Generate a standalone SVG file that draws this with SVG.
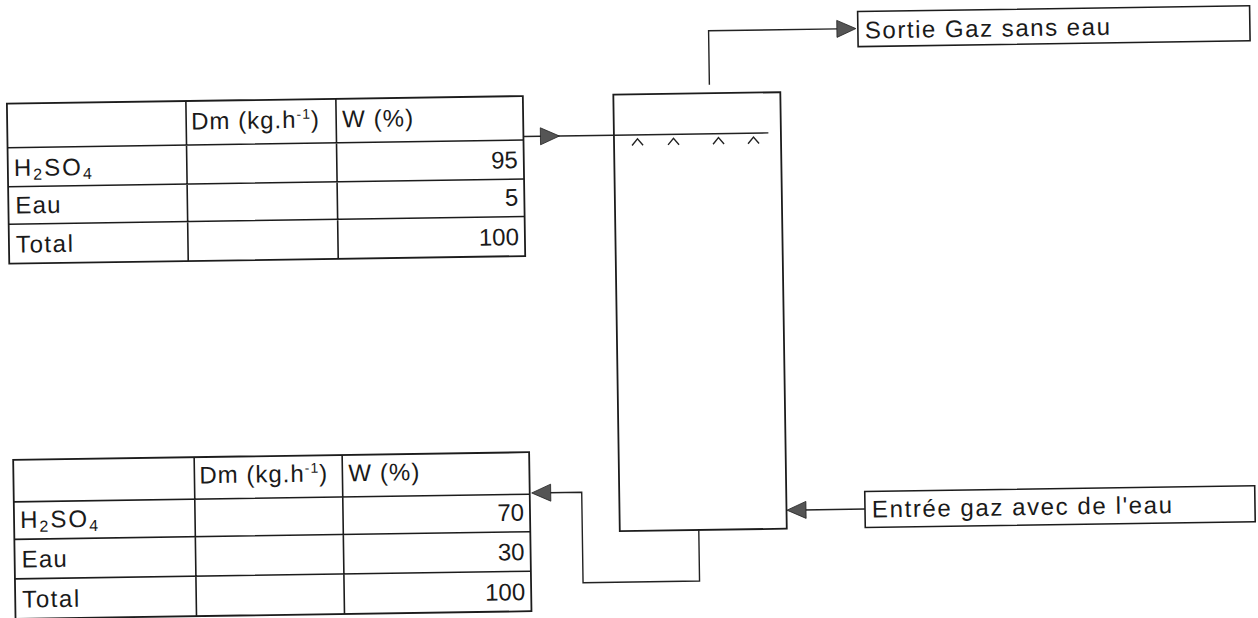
<svg xmlns="http://www.w3.org/2000/svg" xmlns:xlink="http://www.w3.org/1999/xlink" width="1258" height="618" viewBox="0 0 1258 618">
<style>
.frame{fill:none;stroke:#1c1c1c;stroke-width:1.8}
.grid{fill:none;stroke:#1c1c1c;stroke-width:1.6}
.wire{fill:none;stroke:#222;stroke-width:1.4}
.head{fill:#555;stroke:#222;stroke-width:0.8}
.t{font-family:"Liberation Sans",Arial,sans-serif;font-size:24px;fill:#1a1a1a}
.lbl{font-family:"Liberation Sans",Arial,sans-serif;font-size:24px;fill:#1a1a1a}
.num{text-anchor:end}
.sp{letter-spacing:1px}
.chem{letter-spacing:2px}
</style>
<defs>
<path id="ah" d="M0,0 L-19,-8.5 L-19,8.5 Z"/>
</defs>
<rect width="1258" height="618" fill="#fff"/>
<g transform="rotate(-0.85 629 309)">
<g id="table-top">
<rect class="frame" x="10" y="94.5" width="516" height="160"/>
<path class="grid" d="M10 138.5H526M10 177.5H526M10 215H526M189 94.5V254.5M339 94.5V254.5"/>
<text class="t sp" x="194" y="123">Dm (kg.h<tspan dy="-9" font-size="14">-1</tspan><tspan dy="9">)</tspan></text>
<text class="t" x="345" y="123" textLength="71">W (%)</text>
<text class="t chem" x="16" y="167">H<tspan dy="4" font-size="16">2</tspan><tspan dy="-4">SO</tspan><tspan dy="4" font-size="16">4</tspan></text>
<text class="t" x="17" y="204.5" textLength="45">Eau</text>
<text class="t" x="17" y="243.5" textLength="57">Total</text>
<text class="t num" x="520" y="166.5">95</text>
<text class="t num" x="520" y="204">5</text>
<text class="t num" x="520" y="243.5">100</text>
</g>
<g id="table-bottom">
<rect class="frame" x="11" y="450.7" width="516" height="159"/>
<path class="grid" d="M11 492.7H527M11 530.2H527M11 569.7H527M192 450.7V609.7M340 450.7V609.7"/>
<text class="t sp" x="197" y="477">Dm (kg.h<tspan dy="-9" font-size="14">-1</tspan><tspan dy="9">)</tspan></text>
<text class="t" x="346" y="477" textLength="71">W (%)</text>
<text class="t chem" x="17" y="519">H<tspan dy="4" font-size="16">2</tspan><tspan dy="-4">SO</tspan><tspan dy="4" font-size="16">4</tspan></text>
<text class="t" x="18" y="558.5" textLength="45">Eau</text>
<text class="t" x="18" y="598.5" textLength="57">Total</text>
<text class="t num" x="521" y="519">70</text>
<text class="t num" x="521" y="558.5">30</text>
<text class="t num" x="521" y="598.5">100</text>
</g>
<g id="column">
<rect class="frame" x="616.5" y="94.5" width="167" height="436.5"/>
<path class="wire" d="M616.5 135H771"/>
<path class="wire" d="M634.5 145.5L640 139L645.5 145.5M670.5 145.5L676 139L681.5 145.5M715.5 145.5L721 139L726.5 145.5M750.5 145.5L756 139L761.5 145.5"/>
</g>
<g id="box-sortie">
<rect class="grid" x="862" y="15" width="392" height="35"/>
<text class="lbl" x="869" y="42" textLength="245">Sortie Gaz sans eau</text>
</g>
<g id="box-entree">
<rect class="grid" x="862" y="495" width="390" height="36"/>
<text class="lbl" x="869" y="521" textLength="300">Entrée gaz avec de l'eau</text>
</g>
<g id="connectors">
<path class="wire" d="M526 135H616.5"/>
<use xlink:href="#ah" class="head" transform="translate(562 135)"/>
<path class="wire" d="M712.7 86V32H842"/>
<use xlink:href="#ah" class="head" transform="translate(860 32)"/>
<path class="wire" d="M862 512.5H800"/>
<use xlink:href="#ah" class="head" transform="translate(784 512.5) rotate(180)"/>
<path class="wire" d="M695.5 531V582H579V491.5H546"/>
<use xlink:href="#ah" class="head" transform="translate(529 491.5) rotate(180)"/>
</g>
</g>
</svg>
